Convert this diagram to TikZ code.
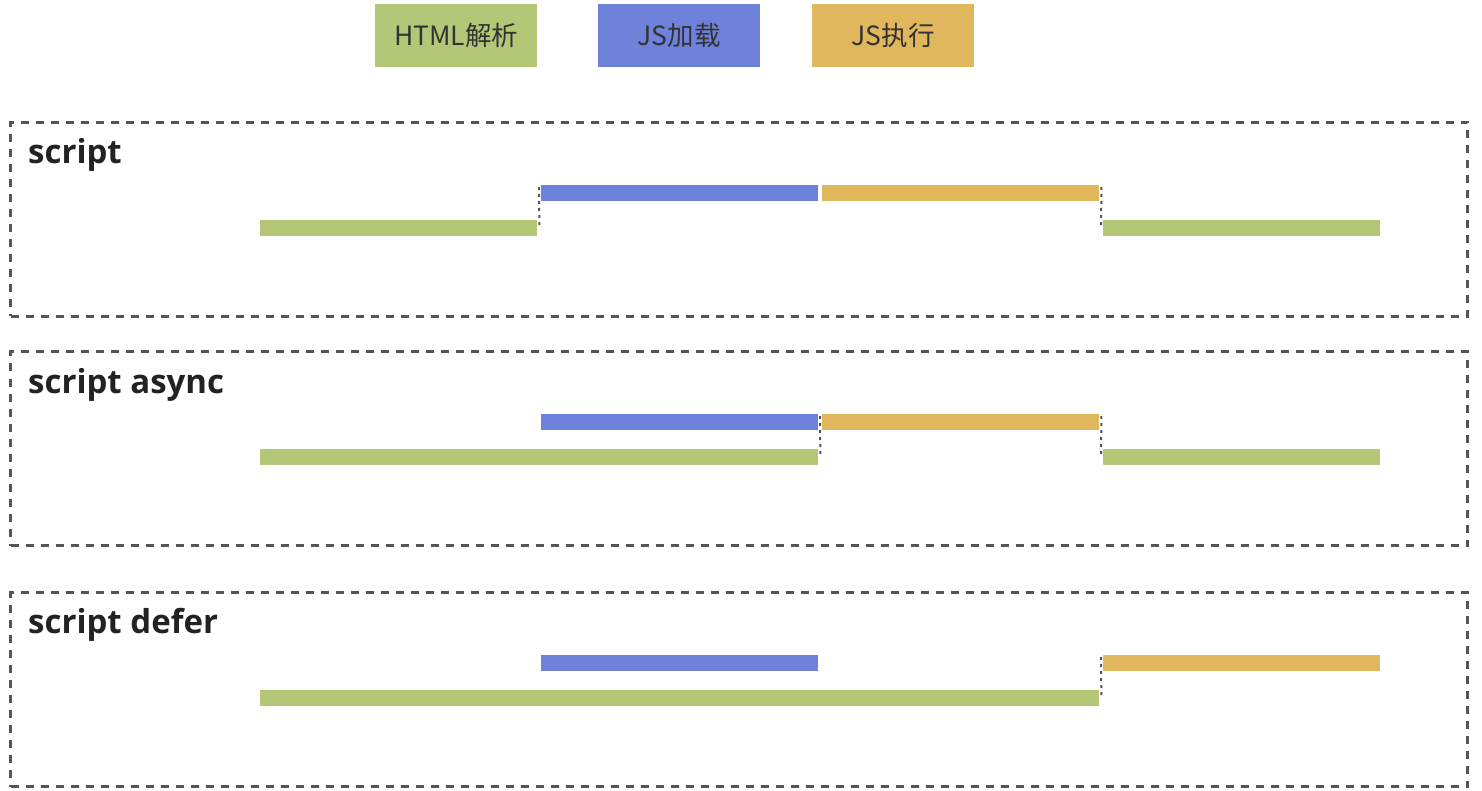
\documentclass[tikz,border=0pt]{standalone}
\usepackage{fontspec}
\setmainfont{Open Sans}
\newfontfamily\cjk{Noto Sans CJK SC}
\usetikzlibrary{calc}
\definecolor{cgreen}{HTML}{B3C776}
\definecolor{cblue}{HTML}{6F82DB}
\definecolor{corange}{HTML}{E0B75C}
\definecolor{cframe}{HTML}{555555}
\definecolor{ctext}{HTML}{333333}
\definecolor{ctitle}{HTML}{222222}
\tikzset{
  legendbox/.style={rectangle, inner sep=0pt, minimum width=162pt, minimum height=63pt, anchor=north west, font=\cjk\fontsize{26.5}{30}\selectfont, text=ctext},
  bar/.style={rectangle, inner sep=0pt, minimum height=16pt, anchor=north west},
  frame/.style={rectangle, draw=cframe, line width=3pt, dash pattern=on 8pt off 7pt, minimum width=1457pt, minimum height=194pt, anchor=north west, inner sep=0pt},
  title/.style={anchor=base west, font=\bfseries\fontsize{33}{38}\selectfont, text=ctitle, inner sep=0pt},
  link/.style={draw=cframe, line width=2pt, dash pattern=on 3pt off 4pt},
}
\begin{document}
\begin{tikzpicture}[x=1pt,y=-1pt]
\useasboundingbox (0,0) rectangle (1482,791);
% legend
\node[legendbox, fill=cgreen] (lg) at (375,4) {HTML解析};
\node[legendbox, fill=cblue] (lb) at (598,4) {JS加载};
\node[legendbox, fill=corange] (lo) at (812,4) {JS执行};
% frames
\node[frame] (f1) at (9,121) {};
\node[frame] (f2) at (9,350) {};
\node[frame] (f3) at (9,591) {};
% titles
\node[title] (t1) at (28,164) {script};
\node[title] (t2) at (28,393) {script async};
\node[title] (t3) at (28,633) {script defer};
% row 1
\node[bar, fill=cgreen, minimum width=277pt] (g11) at (260,220) {};
\node[bar, fill=cblue, minimum width=277pt] (b1) at (541,185) {};
\node[bar, fill=corange, minimum width=277pt] (o1) at (822,185) {};
\node[bar, fill=cgreen, minimum width=277pt] (g12) at (1103,220) {};
\draw[link] ($(b1.north west)+(-2,2)$) -- ($(g11.east)+(2,0)$);
\draw[link] ($(o1.north east)+(2,2)$) -- ($(g12.west)+(-2,0)$);
% row 2
\node[bar, fill=cblue, minimum width=277pt] (b2) at (541,414) {};
\node[bar, fill=corange, minimum width=277pt] (o2) at (822,414) {};
\node[bar, fill=cgreen, minimum width=558pt] (g21) at (260,449) {};
\node[bar, fill=cgreen, minimum width=277pt] (g22) at (1103,449) {};
\draw[link] ($(o2.north west)+(-2,2)$) -- ($(g21.east)+(2,0)$);
\draw[link] ($(o2.north east)+(2,2)$) -- ($(g22.west)+(-2,0)$);
% row 3
\node[bar, fill=cblue, minimum width=277pt] (b3) at (541,655) {};
\node[bar, fill=corange, minimum width=277pt] (o3) at (1103,655) {};
\node[bar, fill=cgreen, minimum width=839pt] (g31) at (260,690) {};
\draw[link] ($(o3.north west)+(-2,2)$) -- ($(g31.east)+(2,0)$);
\end{tikzpicture}
\end{document}
